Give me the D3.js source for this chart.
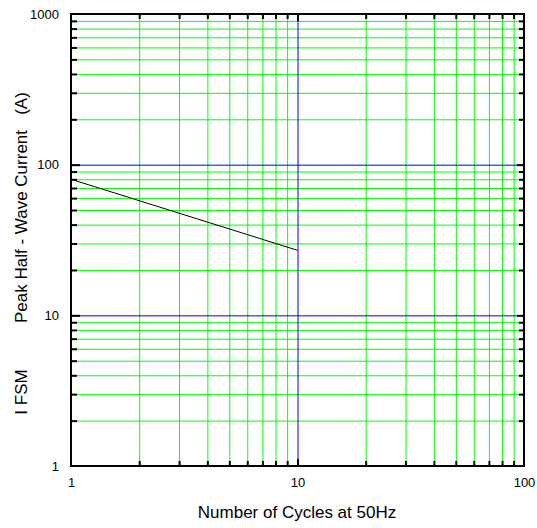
<!DOCTYPE html>
<html><head><meta charset="utf-8">
<script src="https://cdn.jsdelivr.net/npm/d3@7"></script>
<style>html,body{margin:0;padding:0;background:#fff;} text{font-family:"Liberation Sans",Arial,sans-serif;}</style>
</head><body>
<script>
// ---- data ----
const cycles = [1, 10];
const current = [80, 27];
const xTickLabels = [1, 10, 100];
const yTickLabels = [1, 10, 100, 1000];
const xMinor = [2,3,4,5,6,7,8,9,20,30,40,50,60,70,80,90];
const yMinor = [2,3,4,5,6,7,8,9,20,30,40,50,60,70,80,90,200,300,400,500,600,700,800,900];
const xMajorGrid = [10];
const yMajorGrid = [10, 100];
const xTitle = "Number of Cycles at 50Hz";
const yTitleParts = ["I FSM", "Peak Half - Wave Current", "(A)"];

const W = 537, H = 528;
const L = 71, R = 524, T = 14, B = 466;
const svg = d3.select("body").append("svg").attr("width", W).attr("height", H);
const x = d3.scaleLog().domain([1, 100]).range([L, R]);
const y = d3.scaleLog().domain([1, 1000]).range([B, T]);

// grid
const gx = svg.append("g").attr("transform", `translate(0,${B})`)
  .call(d3.axisBottom(x).tickValues(xMinor).tickSize(-(B - T)).tickFormat(""));
gx.select(".domain").remove();
gx.selectAll("line").attr("stroke", "#00ff00");
const gy = svg.append("g").attr("transform", `translate(${L},0)`)
  .call(d3.axisLeft(y).tickValues(yMinor).tickSize(-(R - L)).tickFormat(""));
gy.select(".domain").remove();
gy.selectAll("line").attr("stroke", "#00ff00");
const gxM = svg.append("g").attr("transform", `translate(0,${B})`)
  .call(d3.axisBottom(x).tickValues(xMajorGrid).tickSize(-(B - T)).tickFormat(""));
gxM.select(".domain").remove();
gxM.selectAll("line").attr("stroke", "#0000ff");
const gyM = svg.append("g").attr("transform", `translate(${L},0)`)
  .call(d3.axisLeft(y).tickValues(yMajorGrid).tickSize(-(R - L)).tickFormat(""));
gyM.select(".domain").remove();
gyM.selectAll("line").attr("stroke", "#0000ff");

// data line
const pts = cycles.map((c, i) => [c, current[i]]);
svg.append("path").datum(pts)
  .attr("fill", "none").attr("stroke", "#000").attr("stroke-width", 1)
  .attr("d", d3.line().x(d => x(d[0])).y(d => y(d[1])));

// inner tick marks
function ticks(axisFn, scale, vals, size, tr) {
  const g = svg.append("g").attr("transform", tr)
    .call(axisFn(scale).tickValues(vals).tickSize(size).tickFormat(""));
  g.select(".domain").remove();
  g.selectAll("line").attr("stroke", "#000").attr("stroke-width", 2);
}
ticks(d3.axisBottom, x, xMinor, -5, `translate(0,${B})`);
ticks(d3.axisTop, x, xMinor, -5, `translate(0,${T})`);
ticks(d3.axisLeft, y, yMinor, -6, `translate(${L},0)`);
ticks(d3.axisRight, y, yMinor, -5, `translate(${R},0)`);
ticks(d3.axisBottom, x, [10], -7, `translate(0,${B})`);
ticks(d3.axisTop, x, [10], -7, `translate(0,${T})`);
ticks(d3.axisLeft, y, [10, 100], -9, `translate(${L},0)`);
ticks(d3.axisRight, y, [10, 100], -7, `translate(${R},0)`);

// frame
svg.append("rect").attr("x", L).attr("y", T).attr("width", R - L).attr("height", B - T)
  .attr("fill", "none").attr("stroke", "#000").attr("stroke-width", 2);

// tick labels
const xl = svg.append("g").attr("transform", `translate(0,${B + 9})`)
  .call(d3.axisBottom(x).tickValues(xTickLabels).tickSize(0).tickFormat(d3.format("d")));
xl.select(".domain").remove();
xl.selectAll("text").attr("font-size", 13).attr("font-family", "Liberation Sans, Arial, sans-serif").attr("fill", "#000");
const yl = svg.append("g").attr("transform", `translate(${L - 9},0)`)
  .call(d3.axisLeft(y).tickValues(yTickLabels).tickSize(0).tickFormat(d3.format("d")));
yl.select(".domain").remove();
yl.selectAll("text").attr("font-size", 13).attr("font-family", "Liberation Sans, Arial, sans-serif").attr("fill", "#000");

// titles
svg.append("text").attr("x", 297).attr("y", 518).attr("text-anchor", "middle")
  .attr("font-size", 17).text(xTitle);
const yCenters = [392, 226.5, 103.5];
yTitleParts.forEach((t, i) => {
  svg.append("text").attr("transform", `translate(27,${yCenters[i]}) rotate(-90)`)
    .attr("text-anchor", "middle").attr("font-size", 17).text(t);
});
</script>
</body></html>
